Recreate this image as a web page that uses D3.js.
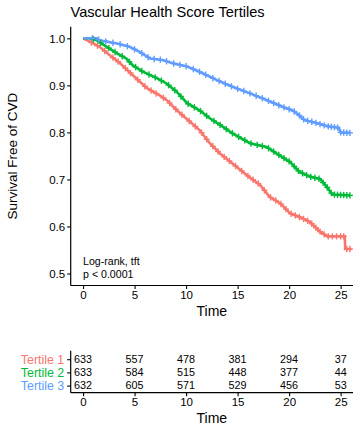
<!DOCTYPE html>
<html>
<head>
<meta charset="utf-8">
<script src="https://cdn.jsdelivr.net/npm/d3@7/dist/d3.min.js"></script>
<style>
  html, body { margin: 0; padding: 0; background: #fff; }
  svg { display: block; font-family: "Liberation Sans", Arial, sans-serif; }
</style>
</head>
<body>
<svg id="chart" width="360" height="432"></svg>
<script>
// ---- Data ----
const seriesNames = ["Tertile 1", "Tertile 2", "Tertile 3"];
const seriesColors = ["#F8766D", "#00BA38", "#619CFF"];

const tertile1Curve = [
  [0, 1.0], [0.65, 0.993], [1.6, 0.982], [2.6, 0.964], [3.6, 0.947], [4.8, 0.922],
  [6.2, 0.894], [7.4, 0.879], [8.1, 0.869], [9.1, 0.847], [10.1, 0.828], [11.3, 0.805],
  [12.3, 0.777], [13.3, 0.755], [14.5, 0.734], [15.9, 0.709], [17.2, 0.688], [18.1, 0.663],
  [19.1, 0.65], [20.1, 0.628], [21.0, 0.62], [22.0, 0.61], [23.0, 0.589], [23.7, 0.579],
  [25.4, 0.579], [25.45, 0.552], [26.05, 0.552]
];
const tertile2Curve = [
  [0, 1.0], [0.7, 1.0], [1.3, 0.996], [2.3, 0.982], [3.3, 0.968], [4.2, 0.957], [4.8, 0.943],
  [5.8, 0.929], [7.2, 0.915], [8.1, 0.904], [9.1, 0.886], [10.1, 0.862], [11.3, 0.847],
  [12.3, 0.83], [13.3, 0.816], [14.5, 0.798], [16.2, 0.777], [17.8, 0.769], [18.8, 0.755],
  [20.1, 0.737], [21.0, 0.716], [22.0, 0.706], [23.0, 0.701], [23.7, 0.683], [24.2, 0.668],
  [25.9, 0.666]
];
const tertile3Curve = [
  [0, 1.0], [1.3, 1.0], [1.6, 0.996], [3.3, 0.989], [4.5, 0.982], [5.5, 0.971], [6.5, 0.957],
  [7.7, 0.954], [8.7, 0.947], [10.1, 0.94], [11.3, 0.929], [13.0, 0.911], [14.5, 0.897],
  [16.2, 0.883], [17.8, 0.869], [19.4, 0.854], [20.4, 0.846], [21.0, 0.836], [21.5, 0.826],
  [22.5, 0.821], [23.7, 0.813], [24.8, 0.81], [25.0, 0.8], [25.9, 0.799]
];

const tertile1Censor = [0.8, 1.4, 2.1, 2.9, 3.4, 4.1, 4.6, 5.3, 6.0, 6.6, 7.1, 7.8, 8.4, 9.0, 9.6,
  10.3, 10.9, 11.5, 12.0, 12.6, 13.1, 13.7, 14.2, 14.8, 15.4, 16.0, 16.5, 17.0, 17.6, 18.2,
  18.7, 19.2, 19.7, 20.2, 20.6, 21.0, 21.4, 21.8, 22.2, 22.6, 23.0, 23.4, 23.8, 24.2, 24.6,
  25.0, 25.3, 25.6, 25.9];
const tertile2Censor = [1.0, 1.7, 2.5, 3.1, 3.8, 4.5, 5.1, 5.7, 6.4, 7.0, 7.6, 8.3, 8.9, 9.5,
  10.2, 10.8, 11.4, 12.0, 12.7, 13.3, 13.9, 14.5, 15.1, 15.7, 16.3, 16.9, 17.4, 18.0, 18.5,
  19.0, 19.5, 20.0, 20.5, 20.9, 21.3, 21.7, 22.1, 22.5, 22.9, 23.3, 23.7, 24.1, 24.4, 24.7,
  25.0, 25.3, 25.6, 25.9];
const tertile3Censor = [0.9, 1.5, 2.2, 2.9, 3.6, 4.3, 5.0, 5.7, 6.3, 6.9, 7.5, 8.1, 8.8, 9.4,
  10.0, 10.7, 11.3, 11.9, 12.6, 13.2, 13.8, 14.4, 15.0, 15.6, 16.2, 16.8, 17.4, 18.0, 18.5,
  19.0, 19.5, 20.0, 20.5, 21.0, 21.4, 21.8, 22.2, 22.6, 23.0, 23.4, 23.8, 24.1, 24.4, 24.7,
  25.0, 25.3, 25.6, 25.9];

const riskTimes = [0, 5, 10, 15, 20, 25];
const riskTertile1 = [633, 557, 478, 381, 294, 37];
const riskTertile2 = [633, 584, 515, 448, 377, 44];
const riskTertile3 = [632, 605, 571, 529, 456, 53];

const xTicks = [0, 5, 10, 15, 20, 25];
const yTicks = [0.5, 0.6, 0.7, 0.8, 0.9, 1.0];

const titleText = "Vascular Health Score Tertiles";
const yLabelText = "Survival Free of CVD";
const xLabelText = "Time";
const pvalLines = ["Log-rank, tft", "p < 0.0001"];

// ---- Layout ----
const svg = d3.select("#chart");
const plotLeft = 70.7, plotRight = 353, plotTop = 26.7, plotBottom = 285.5;
const x = d3.scaleLinear().domain([-1.2, 26.2]).range([plotLeft, plotRight]);
const y = d3.scaleLinear().domain([0.4745, 1.0247]).range([plotBottom, plotTop]);

const curves = [tertile1Curve, tertile2Curve, tertile3Curve];
const censors = [tertile1Censor, tertile2Censor, tertile3Censor];
const risks = [riskTertile1, riskTertile2, riskTertile3];

// Title
svg.append("text").attr("x", 70.5).attr("y", 17).attr("font-size", 14.6)
  .attr("fill", "#000").text(titleText);

// Curves
const line = d3.line().x(d => x(d[0])).y(d => y(d[1])).curve(d3.curveLinear);
function interp(curve, t) {
  for (let i = 1; i < curve.length; i++) {
    if (t <= curve[i][0]) {
      const a = curve[i - 1], b = curve[i];
      const f = (t - a[0]) / (b[0] - a[0] || 1);
      return a[1] + f * (b[1] - a[1]);
    }
  }
  return curve[curve.length - 1][1];
}
const gCurves = svg.append("g");
curves.forEach((c, i) => {
  gCurves.append("path").datum(c).attr("d", line).attr("fill", "none")
    .attr("stroke", seriesColors[i]).attr("stroke-width", 2.6);
});
curves.forEach((c, i) => {
  const g = gCurves.append("g").attr("stroke", seriesColors[i]).attr("stroke-width", 1.4);
  censors[i].forEach(t => {
    const cx = x(t), cy = y(interp(c, t));
    g.append("line").attr("x1", cx - 3).attr("x2", cx + 3).attr("y1", cy).attr("y2", cy);
    g.append("line").attr("x1", cx).attr("x2", cx).attr("y1", cy - 3.2).attr("y2", cy + 3.2);
  });
});

// Axes (main)
const yAxis = d3.axisLeft(y).tickValues(yTicks).tickFormat(d3.format(".1f")).tickSize(3.5).tickSizeOuter(0);
const gy = svg.append("g").attr("transform", `translate(${plotLeft},0)`).call(yAxis);
gy.select(".domain").attr("d", `M0,${plotTop}V${plotBottom}`);
const xAxis = d3.axisBottom(x).tickValues(xTicks).tickSize(3.5).tickSizeOuter(0);
const gx = svg.append("g").attr("transform", `translate(0,${plotBottom})`).call(xAxis);
gx.select(".domain").attr("d", `M${plotLeft},0H${plotRight}`);
[gy, gx].forEach(g => {
  g.selectAll(".domain").attr("stroke", "#000").attr("stroke-width", 1.2);
  g.selectAll(".tick line").attr("stroke", "#000").attr("stroke-width", 1.1);
  g.selectAll(".tick text").attr("fill", "#000").attr("font-size", 11.5)
    .attr("font-family", "Liberation Sans, Arial, sans-serif");
});
gy.selectAll(".tick text").attr("x", -5.5);
gx.selectAll(".tick text").attr("y", 5.5);

// Y label
svg.append("text").attr("transform", `translate(17,${(plotTop + plotBottom) / 2}) rotate(-90)`)
  .attr("text-anchor", "middle").attr("font-size", 13.5).attr("fill", "#000").text(yLabelText);
// X label
svg.append("text").attr("x", (plotLeft + plotRight) / 2).attr("y", 315.5)
  .attr("text-anchor", "middle").attr("font-size", 14).attr("fill", "#000").text(xLabelText);

// p-value text
pvalLines.forEach((t, i) => {
  svg.append("text").attr("x", x(0)).attr("y", 264.5 + i * 13).attr("font-size", 10.6)
    .attr("fill", "#000").text(t);
});

// ---- Risk table ----
const tTop = 350.7, tBottom = 392.7;
const yRow = d3.scalePoint().domain(seriesNames).range([359.2, 385.6]);
const tbl = svg.append("g");
risks.forEach((r, i) => {
  r.forEach((v, j) => {
    tbl.append("text").attr("x", x(riskTimes[j])).attr("y", yRow(seriesNames[i]))
      .attr("dy", "0.36em").attr("text-anchor", "middle").attr("font-size", 10.8)
      .attr("fill", "#000").text(v);
  });
});
const tyAxis = d3.axisLeft(yRow).tickSize(3.5).tickSizeOuter(0);
const gty = svg.append("g").attr("transform", `translate(${plotLeft},0)`).call(tyAxis);
gty.select(".domain").attr("d", `M0,${tTop}V${tBottom}`);
gty.selectAll(".tick text").attr("x", -6.5).attr("font-size", 12.4)
  .attr("font-family", "Liberation Sans, Arial, sans-serif")
  .attr("fill", (d, i) => seriesColors[i]);
const txAxis = d3.axisBottom(x).tickValues(xTicks).tickSize(3.5).tickSizeOuter(0);
const gtx = svg.append("g").attr("transform", `translate(0,${tBottom})`).call(txAxis);
gtx.select(".domain").attr("d", `M${plotLeft},0H${plotRight}`);
[gty, gtx].forEach(g => {
  g.selectAll(".domain").attr("stroke", "#000").attr("stroke-width", 1.2);
  g.selectAll(".tick line").attr("stroke", "#000").attr("stroke-width", 1.1);
});
gtx.selectAll(".tick text").attr("fill", "#000").attr("font-size", 11.5).attr("y", 5.5)
  .attr("font-family", "Liberation Sans, Arial, sans-serif");
svg.append("text").attr("x", (plotLeft + plotRight) / 2).attr("y", 423)
  .attr("text-anchor", "middle").attr("font-size", 14).attr("fill", "#000").text(xLabelText);
</script>
</body>
</html>
